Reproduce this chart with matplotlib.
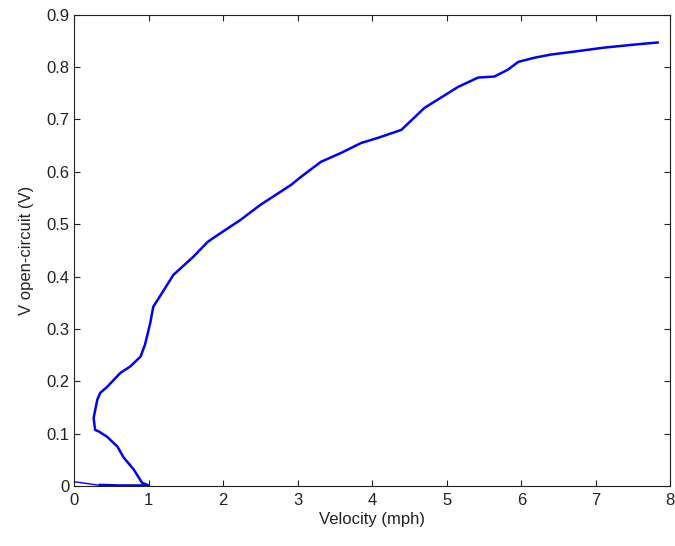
import numpy as np
from matplotlib import pyplot as plt

plt.rcParams['font.family'] = ['Liberation Sans', 'DejaVu Sans']

# start-up segment along the baseline
v_start = [0.0, 0.1, 0.2, 0.35, 0.6, 0.98]
u_start = [0.008, 0.006, 0.004, 0.001, 0.0, 0.0]

# main trace (velocity mph, open-circuit volts)
vel = [0.98, 0.91, 0.80, 0.66, 0.58, 0.44, 0.33, 0.28, 0.26, 0.29, 0.31, 0.35,
       0.44, 0.62, 0.75, 0.89, 0.95, 1.02, 1.06, 1.18, 1.33, 1.60, 1.79, 1.87,
       2.23, 2.50, 2.91, 3.04, 3.31, 3.58, 3.85, 4.08, 4.39, 4.70, 5.15, 5.42,
       5.64, 5.82, 5.96, 6.18, 6.40, 6.68, 7.10, 7.52, 7.83]
volt = [0.002, 0.006, 0.031, 0.055, 0.075, 0.094, 0.104, 0.107, 0.130, 0.151,
        0.165, 0.178, 0.189, 0.216, 0.228, 0.247, 0.270, 0.311, 0.342, 0.369,
        0.403, 0.438, 0.466, 0.474, 0.508, 0.537, 0.575, 0.590, 0.619, 0.636,
        0.655, 0.665, 0.680, 0.722, 0.762, 0.780, 0.782, 0.795, 0.810, 0.818,
        0.824, 0.829, 0.837, 0.843, 0.847]

fig = plt.figure(figsize=(6.75, 5.46), dpi=100)
ax = fig.add_axes([0.110, 0.110, 0.883, 0.863])
ax.plot(v_start, u_start, color='#0000ff', lw=1.0)
ax.plot(v_start[3:], u_start[3:], color='#0000ff', lw=2.5)
ax.plot(vel, volt, color='#0000ff', lw=1.8)

ax.set_xlim(0, 8)
ax.set_ylim(0, 0.9)
ax.set_xticks(np.arange(0, 9, 1))
ax.set_yticks(np.arange(0, 0.91, 0.1))
ax.set_xticklabels([str(i) for i in range(9)])
ax.set_yticklabels(['0'] + ['%.1f' % (0.1 * i) for i in range(1, 10)])
ax.tick_params(direction='in', top=True, right=True, labelsize=12, length=4,
               colors='#222222', labelcolor='#222222')
ax.tick_params(axis='x', pad=5)
for s in ax.spines.values():
    s.set_color('#222222')
ax.set_xlabel('Velocity (mph)', fontsize=12, labelpad=3, color='#222222')
ax.set_ylabel('V open-circuit (V)', fontsize=12, labelpad=9, color='#222222')

plt.savefig('out.png', dpi=100)
